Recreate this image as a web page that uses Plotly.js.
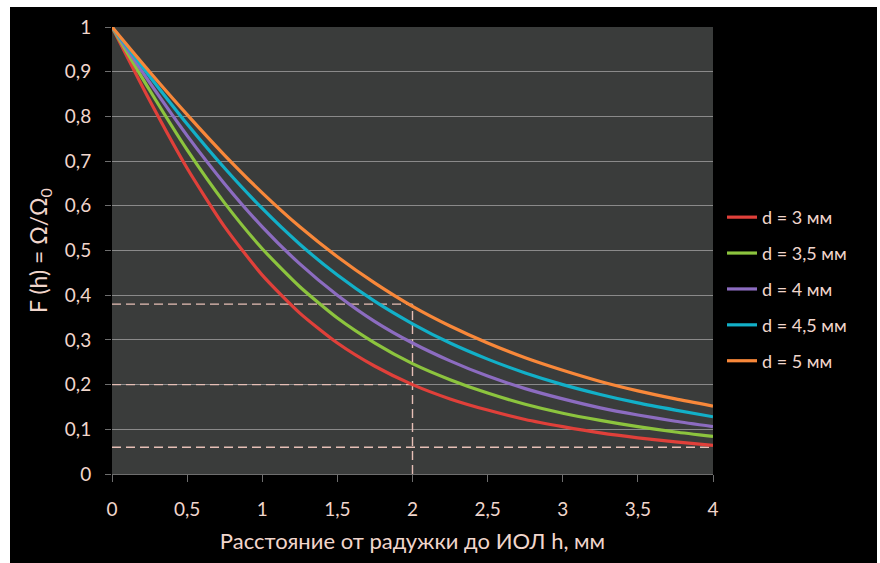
<!DOCTYPE html>
<html>
<head>
<meta charset="utf-8">
<script src="https://cdn.plot.ly/plotly-3.0.1.min.js"></script>
<style>
  html, body { margin: 0; padding: 0; background: #ffffff; }
  #chart { position: absolute; left: 10px; top: 7px; width: 867px; height: 556px; }
</style>
</head>
<body>
<div id="chart"></div>
<script>
// Distance h, mm
const hValues = [0, 0.25, 0.5, 0.75, 1, 1.25, 1.5, 1.75, 2, 2.25, 2.5, 2.75, 3, 3.25, 3.5, 3.75, 4];

// F(h) for each diameter
const seriesNames = ["d = 3 мм", "d = 3,5 мм", "d = 4 мм", "d = 4,5 мм", "d = 5 мм"];
const f_d3   = [1, 0.836, 0.684, 0.553, 0.445, 0.360, 0.293, 0.241, 0.200, 0.168, 0.143, 0.122, 0.106, 0.092, 0.081, 0.072, 0.064];
const f_d35  = [1, 0.859, 0.725, 0.606, 0.504, 0.419, 0.349, 0.293, 0.247, 0.211, 0.181, 0.156, 0.136, 0.120, 0.106, 0.094, 0.084];
const f_d4   = [1, 0.876, 0.757, 0.649, 0.553, 0.470, 0.400, 0.341, 0.293, 0.253, 0.219, 0.191, 0.168, 0.148, 0.132, 0.118, 0.106];
const f_d45  = [1, 0.890, 0.783, 0.684, 0.594, 0.514, 0.445, 0.386, 0.336, 0.293, 0.257, 0.226, 0.200, 0.178, 0.159, 0.143, 0.128];
const f_d5   = [1, 0.900, 0.804, 0.713, 0.629, 0.553, 0.486, 0.427, 0.375, 0.331, 0.293, 0.260, 0.232, 0.207, 0.186, 0.168, 0.152];
const seriesColors = ["#e0403a", "#8cc43e", "#8c6cc0", "#12b0c8", "#f8883a"];

// Reference (dashed) guide lines
const guideX = 2;
const guideLevels = [0.38, 0.2];
const guideLow = 0.06;
const xMax = 4;

const xTickVals = [0, 0.5, 1, 1.5, 2, 2.5, 3, 3.5, 4];
const yTickVals = [0, 0.1, 0.2, 0.3, 0.4, 0.5, 0.6, 0.7, 0.8, 0.9, 1];

const textColor = "#f1d6cc";
const guideColor = "#e6bfb6";
const guideDash = "9px,5px";

const allSeries = [f_d3, f_d35, f_d4, f_d45, f_d5];

const traces = [];

// guide lines first (below curves)
guideLevels.forEach(v => {
  traces.push({
    x: [0, guideX], y: [v, v], mode: "lines", showlegend: false, hoverinfo: "skip",
    line: { color: guideColor, width: 1.4, dash: guideDash }
  });
});
traces.push({
  x: [0, xMax], y: [guideLow, guideLow], mode: "lines", showlegend: false, hoverinfo: "skip",
  line: { color: guideColor, width: 1.4, dash: guideDash }
});
traces.push({
  x: [guideX, guideX], y: [0, guideLevels[0]], mode: "lines", showlegend: false, hoverinfo: "skip",
  line: { color: guideColor, width: 1.4, dash: guideDash }
});

allSeries.forEach((ys, i) => {
  traces.push({
    x: hValues, y: ys, name: seriesNames[i], mode: "lines", legendgroup: "g" + i,
    line: { color: seriesColors[i], width: 3.2, shape: "spline", smoothing: 0.6 }
  });
});

const layout = {
  width: 867, height: 556,
  paper_bgcolor: "#000000",
  plot_bgcolor: "#3a3c3b",
  separators: ", ",
  font: { family: "Lato, 'Open Sans', sans-serif", color: textColor, size: 19 },
  margin: { l: 102, r: 164, t: 20, b: 89 },
  xaxis: {
    range: [0, 4], tickvals: xTickVals, showgrid: false, zeroline: false,
    showline: true, linecolor: "#6e6e6e", linewidth: 1,
    ticks: "outside", ticklen: 7, tickcolor: "#6e6e6e", tickwidth: 1,
    ticklabelstandoff: 11,
    tickfont: { size: 19, color: textColor },
    title: { text: "Расстояние от радужки до ИОЛ h, мм", font: { size: 22, color: textColor }, standoff: 14 }
  },
  yaxis: {
    range: [0, 1], tickvals: yTickVals, showgrid: true, gridcolor: "#8a8a8a", gridwidth: 1,
    zeroline: false, showline: false,
    ticks: "outside", ticklen: 6, tickcolor: "#6e6e6e", tickwidth: 1,
    ticklabelstandoff: 10,
    tickfont: { size: 19, color: textColor },
    title: { text: "F (h) = Ω/Ω<sub>0</sub>", font: { size: 23, color: textColor }, standoff: 10 }
  },
  legend: {
    x: 1.015, xanchor: "left", y: 0.414, yanchor: "middle",
    bgcolor: "rgba(0,0,0,0)", font: { size: 18, color: textColor },
    traceorder: "grouped", tracegroupgap: 9.5, itemwidth: 30
  },
  showlegend: true
};

Plotly.newPlot("chart", traces, layout, { displayModeBar: false, staticPlot: true });
</script>
</body>
</html>
